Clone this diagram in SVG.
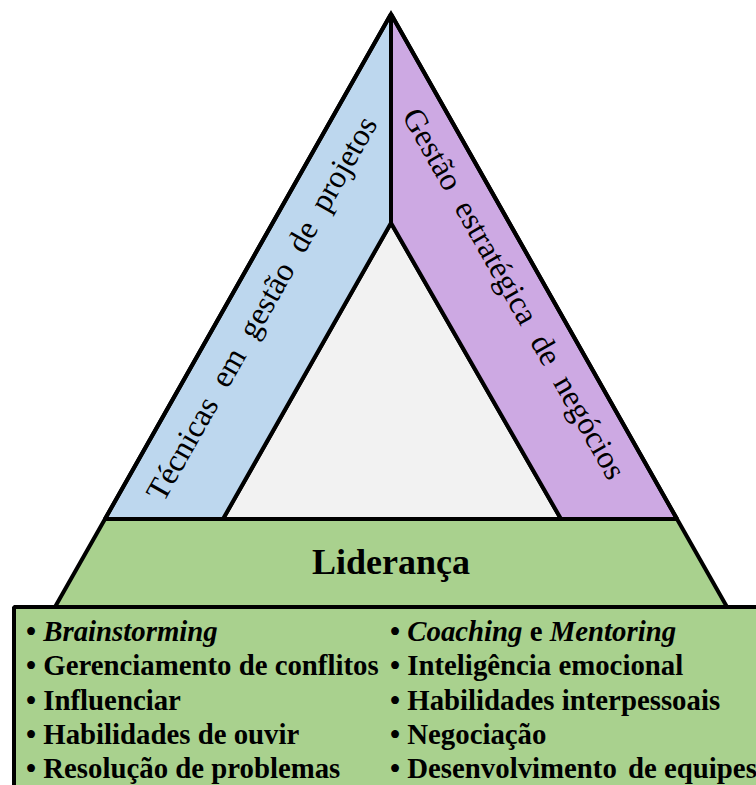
<svg xmlns="http://www.w3.org/2000/svg" width="756" height="785" viewBox="0 0 756 785">
  <style>
    .edge { stroke: #000; stroke-width: 4; stroke-linejoin: bevel; }
    .outline { fill: none; stroke: #000; stroke-width: 4; stroke-linejoin: miter; stroke-miterlimit: 3; }
    text { font-family: "Liberation Serif", "Times New Roman", serif; fill: #000; }
    .band-text { font-size: 32px; word-spacing: 9px; }
    .title { font-size: 36px; font-weight: bold; }
    .item { font-size: 28.8px; font-weight: bold; }
    .em { font-style: italic; }
  </style>
  <rect width="756" height="785" fill="#ffffff"/>

  <!-- skills box at the base -->
  <g id="skills">
    <rect class="edge" x="14" y="607" width="760" height="200" fill="#A9D18E" stroke-linejoin="miter"/>
    <text class="item" x="26" y="641">• <tspan class="em">Brainstorming</tspan></text>
    <text class="item" x="26" y="675">• Gerenciamento de conflitos</text>
    <text class="item" x="26" y="710">• Influenciar</text>
    <text class="item" x="26" y="744">• Habilidades de ouvir</text>
    <text class="item" x="26" y="778">• Resolução de problemas</text>
    <text class="item" x="390" y="641">• <tspan class="em">Coaching</tspan> e <tspan class="em">Mentoring</tspan></text>
    <text class="item" x="390" y="675">• Inteligência emocional</text>
    <text class="item" x="390" y="710">• Habilidades interpessoais</text>
    <text class="item" x="390" y="744">• Negociação</text>
    <text class="item" x="390" y="778">• Desenvolvimento <tspan dx="4">de equipes</tspan></text>
  </g>

  <!-- leadership tier -->
  <g id="leadership">
    <polygon class="edge" points="105,519 677,519 727,607 55,607" fill="#A9D18E"/>
    <text class="title" x="391" y="574" text-anchor="middle">Liderança</text>
  </g>

  <!-- inner core triangle -->
  <g id="core">
    <polygon class="edge" points="391,223 223,519 561,519" fill="#F2F2F2"/>
  </g>

  <!-- left side: project management techniques -->
  <g id="band-left">
    <polygon class="edge" points="391,14 105,519 223,519 391,223" fill="#BDD7EE"/>
    <text class="band-text" x="0" y="0" text-anchor="middle" transform="translate(270.7 313.6) rotate(-60.5)">Técnicas em gestão de projetos</text>
  </g>

  <!-- right side: strategic business management -->
  <g id="band-right">
    <polygon class="edge" points="391,14 677,519 561,519 391,223" fill="#CDA9E3"/>
    <text class="band-text" x="0" y="0" text-anchor="middle" transform="translate(505.1 298.7) rotate(60.5)">Gestão estratégica de negócios</text>
  </g>

  <!-- outer pyramid outline drawn over the bands -->
  <g id="outline">
    <path class="outline" d="M105,519 L391,14 L677,519"/>
    <line x1="391" y1="14" x2="391" y2="223" stroke="#000" stroke-width="4"/>
  </g>
</svg>
